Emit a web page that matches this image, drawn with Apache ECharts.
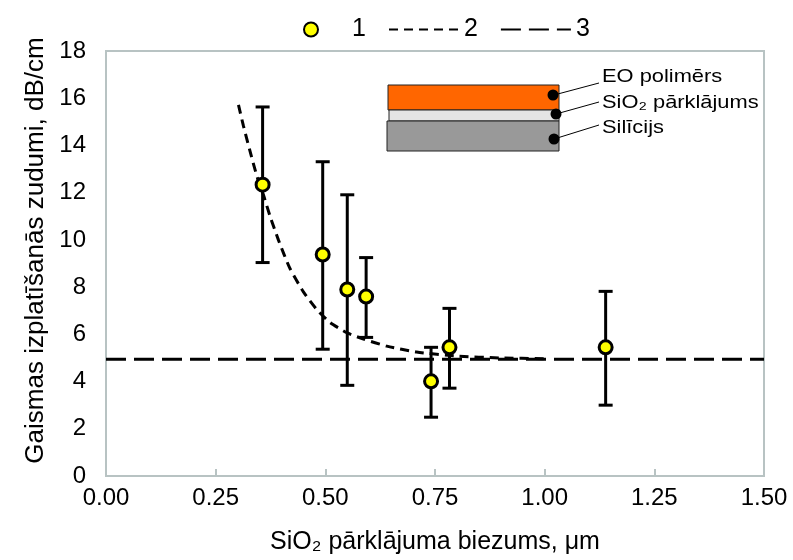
<!DOCTYPE html>
<html>
<head>
<meta charset="utf-8">
<script src="https://cdn.jsdelivr.net/npm/echarts@6/dist/echarts.min.js"></script>
<style>
  html, body { margin: 0; padding: 0; background: #fff; }
  #chart { width: 793px; height: 560px; }
</style>
</head>
<body>
<div id="chart"></div>
<script>
  // measured points (1)
  const thickness = [0.357, 0.494, 0.550, 0.593, 0.741, 0.783, 1.139];
  const losses = [12.34, 9.38, 7.90, 7.60, 4.01, 5.45, 5.45];
  const errLow = [9.04, 5.37, 3.84, 5.87, 2.49, 3.72, 3.00];
  const errHigh = [15.63, 13.31, 11.91, 9.25, 5.45, 7.10, 7.82];

  // fitted curve (2)
  const fitX = [0.302, 0.313, 0.332, 0.344, 0.359, 0.374, 0.393, 0.419, 0.450, 0.480, 0.511, 0.549, 0.587, 0.640, 0.708, 0.80, 0.90, 1.00];
  const fitY = [15.72, 14.85, 13.5, 12.7, 11.9, 11.0, 10.0, 8.8, 7.8, 7.06, 6.5, 6.07, 5.8, 5.5, 5.25, 5.08, 5.0, 4.97];

  // substrate level (3)
  const levelX = [0, 1.5];
  const levelY = [4.95, 4.95];

  const font = "'Liberation Sans', Arial, sans-serif";
  const frameColor = '#b8c3c3';

  const chart = echarts.init(document.getElementById('chart'));

  const points = thickness.map((x, i) => [x, losses[i]]);
  const bars = thickness.map((x, i) => [x, errLow[i], errHigh[i]]);
  const fit = fitX.map((x, i) => [x, fitY[i]]);
  const level = levelX.map((x, i) => [x, levelY[i]]);

  function renderErrorBar(params, api) {
    const x = api.value(0);
    const lo = api.coord([x, api.value(1)]);
    const hi = api.coord([x, api.value(2)]);
    const half = 7;
    const style = { stroke: '#000', lineWidth: 3 };
    return {
      type: 'group',
      children: [
        { type: 'line', shape: { x1: lo[0], y1: lo[1], x2: hi[0], y2: hi[1] }, style },
        { type: 'line', shape: { x1: hi[0] - half, y1: hi[1], x2: hi[0] + half, y2: hi[1] }, style },
        { type: 'line', shape: { x1: lo[0] - half, y1: lo[1], x2: lo[0] + half, y2: lo[1] }, style }
      ]
    };
  }

  // inset sketch of the layer stack
  const labelFont = '19px ' + font;
  const inset = [
    { type: 'rect', shape: { x: 388, y: 85, width: 171, height: 25 }, style: { fill: '#ff6600', stroke: '#222', lineWidth: 1 } },
    { type: 'rect', shape: { x: 389, y: 110, width: 170, height: 11 }, style: { fill: '#e4e4e4', stroke: '#222', lineWidth: 1 } },
    { type: 'rect', shape: { x: 387, y: 121, width: 172, height: 30 }, style: { fill: '#999999', stroke: '#222', lineWidth: 1 } },
    { type: 'line', shape: { x1: 554, y1: 95, x2: 599, y2: 83 }, style: { stroke: '#000', lineWidth: 1 } },
    { type: 'line', shape: { x1: 556, y1: 114, x2: 599, y2: 102 }, style: { stroke: '#000', lineWidth: 1 } },
    { type: 'line', shape: { x1: 554, y1: 139, x2: 599, y2: 125 }, style: { stroke: '#000', lineWidth: 1 } },
    { type: 'circle', shape: { cx: 553, cy: 95, r: 5.5 }, style: { fill: '#000' } },
    { type: 'circle', shape: { cx: 556, cy: 114, r: 5.5 }, style: { fill: '#000' } },
    { type: 'circle', shape: { cx: 554, cy: 139, r: 5.5 }, style: { fill: '#000' } },
    { type: 'text', x: 602, y: 67, scaleX: 1.15, style: { text: 'EO polimērs', font: labelFont, fill: '#000' } },
    { type: 'text', x: 602, y: 93, scaleX: 1.15, style: { text: 'SiO₂ pārklājums', font: labelFont, fill: '#000' } },
    { type: 'text', x: 602, y: 118, scaleX: 1.15, style: { text: 'Silīcijs', font: labelFont, fill: '#000' } }
  ];

  chart.setOption({
    backgroundColor: '#fff',
    animation: false,
    textStyle: { fontFamily: font, color: '#000' },
    legend: [
      {
        data: ['1'],
        left: 303,
        top: 17,
        padding: 0,
        icon: 'circle',
        itemWidth: 14,
        itemHeight: 14,
        textStyle: { fontSize: 25, color: '#000', padding: [0, 0, 0, 29] }
      },
      {
        data: ['2', '3'],
        left: 388,
        top: 17,
        padding: 0,
        itemWidth: 70,
        itemHeight: 14,
        itemGap: 22,
        itemStyle: { opacity: 0 },
        textStyle: { fontSize: 25, color: '#000' }
      }
    ],
    grid: {
      left: 106,
      right: 29,
      top: 51,
      bottom: 83,
      show: true,
      borderColor: frameColor,
      borderWidth: 2
    },
    xAxis: {
      type: 'value',
      min: 0,
      max: 1.5,
      interval: 0.25,
      name: 'SiO₂ pārklājuma biezums, μm',
      nameLocation: 'middle',
      nameGap: 54,
      nameTextStyle: { fontSize: 25, color: '#000' },
      axisLine: { lineStyle: { color: frameColor, width: 2 } },
      axisTick: { inside: true, length: 7, lineStyle: { color: frameColor, width: 2 } },
      splitLine: { show: false },
      axisLabel: {
        fontSize: 24,
        color: '#000',
        margin: 10,
        formatter: v => v.toFixed(2)
      }
    },
    yAxis: {
      type: 'value',
      min: 0,
      max: 18,
      interval: 2,
      name: 'Gaismas izplatīšanās zudumi, dB/cm',
      nameLocation: 'middle',
      nameGap: 54,
      nameTextStyle: { fontSize: 26, color: '#000', padding: [0, 0, 0, 26] },
      axisLine: { show: true, lineStyle: { color: frameColor, width: 2 } },
      axisTick: { show: false },
      splitLine: { show: false },
      axisLabel: { fontSize: 24, color: '#000', margin: 20 }
    },
    graphic: inset,
    series: [
      {
        name: '3',
        type: 'line',
        data: level,
        symbol: 'none',
        lineStyle: { color: '#000', width: 3, type: [20, 8] },
        itemStyle: { color: '#000' },
        z: 2
      },
      {
        name: '2',
        type: 'line',
        data: fit,
        symbol: 'none',
        smooth: 0.2,
        lineStyle: { color: '#000', width: 3, type: [9, 6] },
        itemStyle: { color: '#000' },
        z: 3
      },
      {
        name: 'err',
        type: 'custom',
        data: bars,
        renderItem: renderErrorBar,
        z: 4
      },
      {
        name: '1',
        type: 'scatter',
        data: points,
        symbol: 'circle',
        symbolSize: 13,
        itemStyle: { color: '#ffff00', borderColor: '#000', borderWidth: 3, opacity: 1 },
        z: 5
      }
    ]
  });
</script>
</body>
</html>
